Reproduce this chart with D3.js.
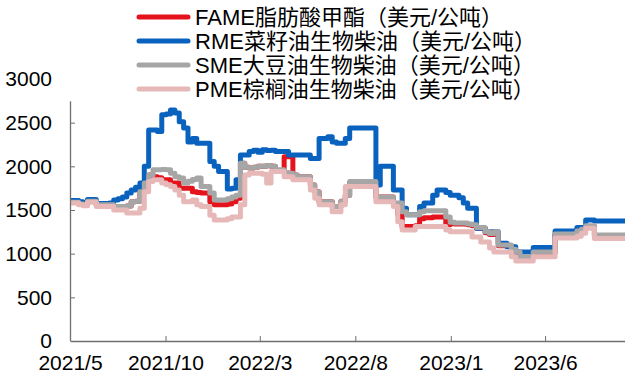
<!DOCTYPE html>
<html>
<head>
<meta charset="utf-8">
<script src="https://cdn.jsdelivr.net/npm/d3@7/dist/d3.min.js"></script>
<style>
  html, body { margin: 0; padding: 0; background: #fff; }
  svg { display: block; }
  text { font-family: "Liberation Sans", Arial, "Noto Sans CJK SC", sans-serif; fill: #000; }
</style>
</head>
<body>
<svg id="chart" width="625" height="381"></svg>
<script>
// Weekly prices, USD per tonne, starting 2021-05-01
const weekStart = "2021-05-01";
const weekCount = 128;

const fame = [
  1590,1590,1570,1560,1600,1600,1560,1560,1560,1560,
  1540,1540,1540,1545,1595,1600,1710,1810,1900,1880,
  1870,1845,1845,1810,1810,1750,1750,1750,1710,1700,
  1695,1695,1595,1560,1560,1560,1570,1595,1635,2035,
  1990,1980,1990,2000,2000,2010,2000,1940,1940,2110,
  2110,1900,1880,1880,1880,1785,1710,1595,1595,1595,
  1540,1540,1600,1670,1815,1815,1815,1815,1815,1815,
  1650,1650,1650,1650,1570,1450,1310,1310,1310,1320,
  1400,1410,1410,1420,1420,1420,1330,1345,1340,1340,
  1340,1330,1320,1290,1290,1240,1220,1240,1090,1090,
  1090,1040,1010,955,955,955,1010,1010,1010,1010,
  1010,1215,1215,1215,1215,1215,1250,1270,1310,1310,
  1205,1205,1205,1205,1205,1205,1205,1205
];

const rme = [
  1610,1610,1595,1580,1620,1620,1575,1575,1575,1580,
  1615,1630,1650,1695,1730,1760,1810,2000,2415,2415,
  2400,2590,2600,2645,2610,2510,2440,2280,2320,2265,
  2265,2265,2055,2000,1940,1940,1740,1750,1845,2130,
  2130,2170,2185,2160,2190,2180,2185,2170,2170,2170,
  2130,2130,2130,2130,2130,2090,2090,2320,2320,2340,
  2280,2265,2265,2320,2440,2440,2440,2440,2440,2440,
  1785,2000,2000,2000,1730,1730,1520,1445,1445,1445,
  1540,1580,1580,1670,1730,1730,1700,1670,1670,1640,
  1580,1520,1520,1290,1290,1250,1250,1250,1120,1120,
  1080,1080,1020,1020,1020,1020,1070,1070,1070,1070,
  1070,1260,1260,1260,1260,1260,1300,1300,1385,1385,
  1375,1375,1375,1375,1375,1375,1375,1375
];

const sme = [
  1590,1590,1570,1560,1600,1600,1560,1560,1560,1560,
  1540,1540,1540,1545,1595,1600,1710,1810,1900,1960,
  1960,1965,1960,1920,1880,1865,1810,1830,1850,1865,
  1770,1770,1695,1615,1615,1615,1630,1650,1670,2035,
  1990,1980,1990,2000,2000,2010,2000,1960,1960,1930,
  1920,1900,1880,1880,1880,1785,1710,1595,1595,1595,
  1540,1540,1600,1670,1825,1825,1825,1825,1825,1825,
  1650,1650,1650,1650,1580,1580,1480,1445,1445,1445,
  1480,1490,1490,1490,1490,1490,1420,1360,1350,1350,
  1350,1340,1330,1300,1300,1250,1230,1250,1100,1100,
  1100,1050,1020,965,965,965,1020,1020,1020,1020,
  1020,1225,1225,1225,1225,1225,1260,1280,1320,1320,
  1215,1215,1215,1215,1215,1215,1215,1215
];

const pme = [
  1580,1580,1560,1550,1590,1590,1540,1540,1540,1540,
  1500,1500,1500,1465,1465,1465,1520,1710,1825,1845,
  1845,1810,1790,1770,1730,1670,1595,1595,1615,1560,
  1540,1540,1440,1385,1385,1385,1400,1420,1420,1560,
  1900,1920,1920,1920,1910,1810,1940,1940,1940,1880,
  1880,1845,1845,1845,1845,1730,1635,1560,1560,1560,
  1480,1480,1560,1770,1770,1770,1770,1770,1770,1770,
  1595,1595,1595,1595,1540,1365,1270,1270,1270,1310,
  1310,1310,1310,1310,1310,1310,1270,1250,1250,1250,
  1250,1250,1190,1190,1135,1135,1065,1020,1020,1020,
  1020,965,915,915,915,915,965,965,965,965,
  965,1180,1180,1180,1180,1180,1200,1235,1290,1290,
  1175,1175,1175,1175,1175,1175,1175,1175
];

const seriesNames = [
  "FAME脂肪酸甲酯（美元/公吨）",
  "RME菜籽油生物柴油（美元/公吨）",
  "SME大豆油生物柴油（美元/公吨）",
  "PME棕榈油生物柴油（美元/公吨）"
];
const seriesValues = [fame, rme, sme, pme];
const seriesColors = ["#e5131c", "#0a62bf", "#a6a6a6", "#e6b9b8"];

const yTicks = [0, 500, 1000, 1500, 2000, 2500, 3000];
const xTickDates = ["2021-05-01", "2021-10-01", "2022-03-01", "2022-08-01", "2023-01-01", "2023-06-01"];
const xTickLabels = ["2021/5", "2021/10", "2022/3", "2022/8", "2023/1", "2023/6"];

const parse = d3.timeParse("%Y-%m-%d");
const start = parse(weekStart);
const dates = d3.range(weekCount).map(i => d3.timeDay.offset(start, 7 * i));

const svg = d3.select("#chart");
const plotLeft = 70, plotRight = 625, plotTop = 79, plotBottom = 341;

const x = d3.scaleTime()
  .domain([start, dates[dates.length - 1]])
  .range([plotLeft, plotRight]);
const y = d3.scaleLinear().domain([0, 3000]).range([plotBottom, plotTop]);

const axisColor = "#6f6f6f";

// Series lines (weekly step values)
const line = d3.line()
  .x((d, i) => x(dates[i]))
  .y(d => y(d))
  .curve(d3.curveStepAfter);

svg.append("g").selectAll("path")
  .data(seriesValues)
  .join("path")
  .attr("d", d => line(d))
  .attr("fill", "none")
  .attr("stroke", (d, i) => seriesColors[i])
  .attr("stroke-width", 5)
  .attr("stroke-linejoin", "round");

// Y axis
const yAxis = d3.axisLeft(y).tickValues(yTicks).tickSize(-5).tickPadding(18).tickFormat(d3.format("d"));
const gy = svg.append("g").attr("transform", `translate(${plotLeft},0)`).call(yAxis);
gy.select(".domain").remove();
gy.selectAll(".tick line").attr("stroke", axisColor);
gy.selectAll(".tick text").attr("font-size", 21).attr("font-family", "Liberation Sans, Arial, sans-serif").attr("fill", "#000");
gy.selectAll(".tick").filter(d => d === 0 || d === 3000).select("line").remove();
svg.append("line")
  .attr("x1", plotLeft + 0.5).attr("x2", plotLeft + 0.5)
  .attr("y1", y(2745)).attr("y2", plotBottom)
  .attr("stroke", axisColor).attr("stroke-width", 1.3);

// X axis
const xAxis = d3.axisBottom(x)
  .tickValues(xTickDates.map(parse))
  .tickFormat((d, i) => xTickLabels[i])
  .tickSize(-5).tickPadding(14).tickSizeOuter(0);
const gx = svg.append("g").attr("transform", `translate(0,${plotBottom})`).call(xAxis);
gx.select(".domain").attr("stroke", axisColor).attr("stroke-width", 1.3);
gx.selectAll(".tick line").attr("stroke", axisColor);
gx.selectAll(".tick text").attr("font-size", 21).attr("font-family", "Liberation Sans, Arial, sans-serif").attr("fill", "#000");

// Legend
const legend = svg.append("g");
const rows = legend.selectAll("g")
  .data(seriesNames)
  .join("g")
  .attr("transform", (d, i) => `translate(0,${17 + i * 24})`);
rows.append("line")
  .attr("x1", 139).attr("x2", 188)
  .attr("stroke", (d, i) => seriesColors[i])
  .attr("stroke-width", 5)
  .attr("stroke-linecap", "round");
rows.append("text")
  .attr("x", 195)
  .attr("dy", "0.36em")
  .attr("font-size", 22)
  .text(d => d);
</script>
</body>
</html>
